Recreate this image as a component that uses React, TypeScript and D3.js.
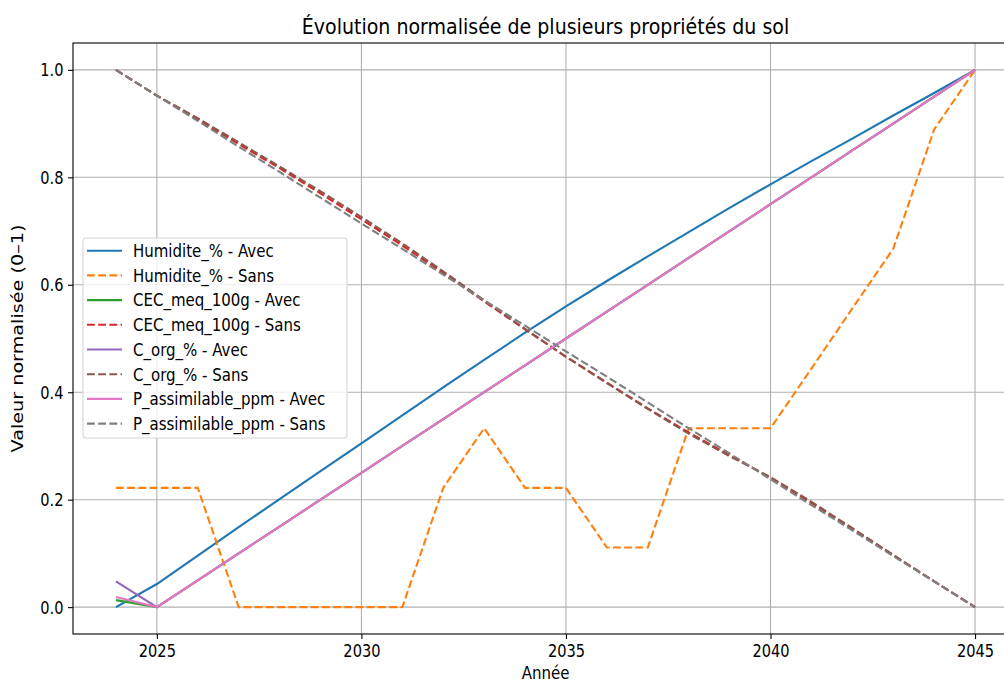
import React, { useEffect, useRef } from "react";
import * as d3 from "d3";

// data (normalised 0-1)
const years = [2024, 2025, 2026, 2027, 2028, 2029, 2030, 2031, 2032, 2033, 2034, 2035, 2036, 2037, 2038, 2039, 2040, 2041, 2042, 2043, 2044, 2045];

const humiditeAvec = [0, 0.043, 0.096, 0.149, 0.201, 0.253, 0.305, 0.357, 0.409, 0.46, 0.511, 0.56, 0.607, 0.653, 0.698, 0.743, 0.787, 0.83, 0.872, 0.915, 0.957, 1.0];
const humiditeSans = [0.222, 0.222, 0.222, 0, 0, 0, 0, 0, 0.222, 0.333, 0.222, 0.222, 0.111, 0.111, 0.333, 0.333, 0.333, 0.444, 0.556, 0.667, 0.889, 1.0];
const cecAvec = [0.013, 0, 0.05, 0.1, 0.15, 0.2, 0.25, 0.3, 0.35, 0.4, 0.45, 0.5, 0.55, 0.6, 0.65, 0.7, 0.75, 0.8, 0.85, 0.9, 0.95, 1.0];
const cecSans = [1.0, 0.952, 0.908, 0.862, 0.817, 0.77, 0.722, 0.673, 0.622, 0.569, 0.517, 0.466, 0.418, 0.37, 0.325, 0.283, 0.241, 0.194, 0.146, 0.097, 0.048, 0];
const corgAvec = [0.048, 0, 0.05, 0.1, 0.15, 0.2, 0.25, 0.3, 0.35, 0.4, 0.45, 0.5, 0.55, 0.6, 0.65, 0.7, 0.75, 0.8, 0.85, 0.9, 0.95, 1.0];
const corgSans = [1.0, 0.952, 0.91, 0.865, 0.82, 0.774, 0.726, 0.677, 0.625, 0.571, 0.518, 0.466, 0.417, 0.369, 0.323, 0.281, 0.242, 0.196, 0.147, 0.097, 0.048, 0];
const pAvec = [0.019, 0, 0.05, 0.1, 0.15, 0.2, 0.25, 0.3, 0.35, 0.4, 0.45, 0.5, 0.55, 0.6, 0.65, 0.7, 0.75, 0.8, 0.85, 0.9, 0.95, 1.0];
const pSans = [1.0, 0.952, 0.905, 0.857, 0.81, 0.762, 0.714, 0.667, 0.619, 0.571, 0.524, 0.476, 0.429, 0.381, 0.333, 0.286, 0.238, 0.19, 0.143, 0.095, 0.048, 0];

const seriesNames = ["Humidite_% - Avec", "Humidite_% - Sans", "CEC_meq_100g - Avec", "CEC_meq_100g - Sans", "C_org_% - Avec", "C_org_% - Sans", "P_assimilable_ppm - Avec", "P_assimilable_ppm - Sans"];
const seriesValues = [humiditeAvec, humiditeSans, cecAvec, cecSans, corgAvec, corgSans, pAvec, pSans];
const colors = ["#1f77b4", "#ff7f0e", "#2ca02c", "#d62728", "#9467bd", "#8c564b", "#e377c2", "#7f7f7f"];

const xTicks = [2025, 2030, 2035, 2040, 2045];
const yTicks = [0, 0.2, 0.4, 0.6, 0.8, 1.0];

const FONT = "DejaVu Sans";
const SY = 1.17; // the reference is a little stretched vertically

const App = () => {
    const svgRef = useRef<SVGSVGElement>(null);

    useEffect(() => {
        const W = 1004, H = 682;
        const m = { left: 73, right: 1018, top: 43, bottom: 634 };

        const svg = d3.select(svgRef.current);
        svg.selectAll("*").remove();
        svg.attr("width", W).attr("height", H);

        svg.append("rect").attr("width", W).attr("height", H).attr("fill", "white");

        // scales (matplotlib 5% margins)
        const x = d3.scaleLinear().domain([2022.95, 2046.05]).range([m.left, m.right]);
        const y = d3.scaleLinear().domain([-0.05, 1.05]).range([m.bottom, m.top]);

        // grid
        const grid = svg.append("g").attr("stroke", "#b0b0b0").attr("stroke-width", 1.1);
        xTicks.forEach(t => grid.append("line").attr("x1", x(t)).attr("x2", x(t)).attr("y1", m.top).attr("y2", m.bottom));
        yTicks.forEach(t => grid.append("line").attr("x1", m.left).attr("x2", m.right).attr("y1", y(t)).attr("y2", y(t)));

        // lines
        const line = d3.line<number>()
            .x((d, i) => x(years[i]))
            .y(d => y(d));

        seriesValues.forEach((vals, i) => {
            svg.append("path")
                .datum(vals)
                .attr("d", line)
                .attr("fill", "none")
                .attr("stroke", colors[i])
                .attr("stroke-width", 2.1)
                .attr("stroke-dasharray", i % 2 === 1 ? "7.8,3.4" : null);
        });

        // spines
        svg.append("rect")
            .attr("x", m.left).attr("y", m.top)
            .attr("width", m.right - m.left).attr("height", m.bottom - m.top)
            .attr("fill", "none").attr("stroke", "black").attr("stroke-width", 1.1);

        // axes
        const xAxis = d3.axisBottom(x).tickValues(xTicks).tickFormat(d3.format("d")).tickSize(5);
        const gx = svg.append("g").attr("transform", `translate(0,${m.bottom})`).call(xAxis);
        gx.select(".domain").remove();
        gx.selectAll("line").attr("stroke", "black").attr("stroke-width", 1.1);
        gx.selectAll("text")
            .attr("y", null).attr("dy", null)
            .attr("transform", `translate(0,23) scale(1,${SY})`)
            .attr("font-family", FONT).attr("font-size", 14.6).attr("fill", "black");

        const yAxis = d3.axisLeft(y).tickValues(yTicks).tickFormat(d3.format(".1f")).tickSize(5);
        const gy = svg.append("g").attr("transform", `translate(${m.left},0)`).call(yAxis);
        gy.select(".domain").remove();
        gy.selectAll("line").attr("stroke", "black").attr("stroke-width", 1.1);
        gy.selectAll("text")
            .attr("x", null).attr("dy", null)
            .attr("transform", `translate(-9.5,6) scale(1,${SY})`)
            .attr("font-family", FONT).attr("font-size", 14.6).attr("fill", "black");

        // title and labels
        svg.append("text")
            .attr("transform", `translate(${(m.left + m.right) / 2},34) scale(1,1.08)`)
            .attr("text-anchor", "middle")
            .attr("font-family", FONT).attr("font-size", 19)
            .text("Évolution normalisée de plusieurs propriétés du sol");

        svg.append("text")
            .attr("transform", `translate(${(m.left + m.right) / 2},679) scale(1,${SY})`)
            .attr("text-anchor", "middle")
            .attr("font-family", FONT).attr("font-size", 15)
            .text("Année");

        svg.append("text")
            .attr("transform", `translate(23,${(m.top + m.bottom) / 2}) scale(1,1.28) rotate(-90)`)
            .attr("text-anchor", "middle")
            .attr("font-family", FONT).attr("font-size", 15)
            .text("Valeur normalisée (0–1)");

        // legend
        const leg = svg.append("g");
        leg.append("rect")
            .attr("x", 83).attr("y", 238).attr("width", 264).attr("height", 200)
            .attr("rx", 3).attr("fill", "white").attr("fill-opacity", 0.8)
            .attr("stroke", "#d6d6d6").attr("stroke-width", 1.1);

        seriesNames.forEach((name, i) => {
            const cy = 250.7 + i * 24.7;
            leg.append("line")
                .attr("x1", 87).attr("x2", 122).attr("y1", cy).attr("y2", cy)
                .attr("stroke", colors[i]).attr("stroke-width", 2.1)
                .attr("stroke-dasharray", i % 2 === 1 ? "7.8,3.4" : null);
            leg.append("text")
                .attr("transform", `translate(133,${cy + 6.3}) scale(1,${SY})`)
                .attr("font-family", FONT).attr("font-size", 15)
                .text(name);
        });
    }, []);

    return (
        <svg ref={svgRef} style={{ position: "absolute", left: 0, top: 0, display: "block", overflow: "hidden" }}></svg>
    );
};

export default App;
